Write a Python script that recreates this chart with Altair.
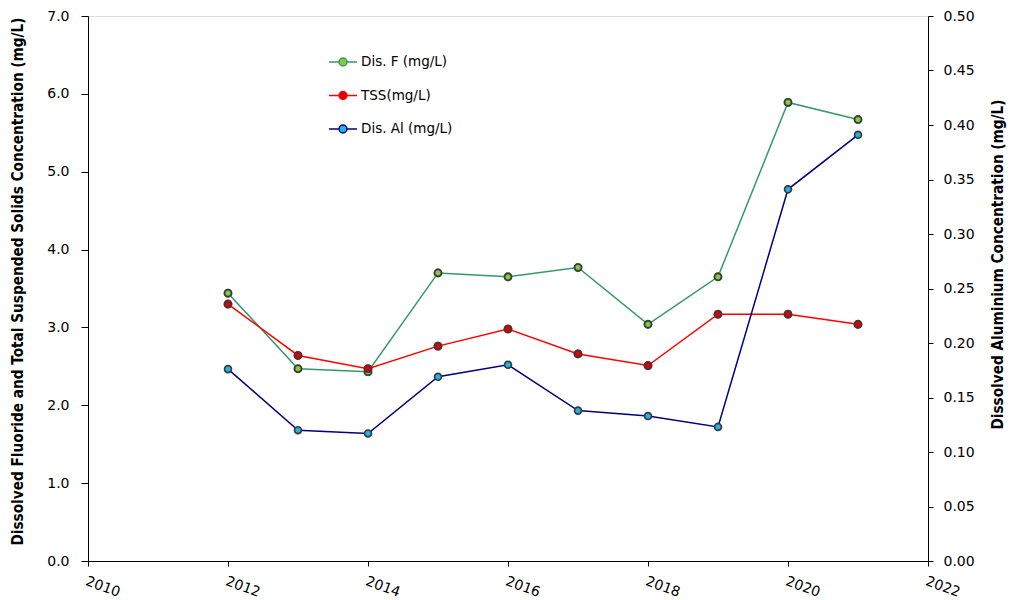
import altair as alt
import pandas as pd

# Annual monitoring results
years = [2012, 2013, 2014, 2015, 2016, 2017, 2018, 2019, 2020, 2021]
dis_f = [3.44, 2.47, 2.43, 3.70, 3.65, 3.77, 3.04, 3.65, 5.89, 5.67]   # mg/L, left axis
tss = [3.30, 2.64, 2.47, 2.76, 2.98, 2.66, 2.51, 3.17, 3.17, 3.04]     # mg/L, left axis
dis_al = [0.176, 0.120, 0.117, 0.169, 0.180, 0.138, 0.133, 0.123, 0.341, 0.391]  # mg/L, right axis

series_names = ["Dis. F (mg/L)", "TSS(mg/L)", "Dis. Al (mg/L)"]
line_colors = ["#339966", "#FF0000", "#000080"]
fill_colors = ["#8DC63F", "#E00000", "#1EB4EA"]

x_ticks = [2010, 2012, 2014, 2016, 2018, 2020, 2022]
left_ticks = [0, 1, 2, 3, 4, 5, 6, 7]
right_ticks = [0, 0.05, 0.10, 0.15, 0.20, 0.25, 0.30, 0.35, 0.40, 0.45, 0.50]

rows = []
for name, vals in zip(series_names, [dis_f, tss, dis_al]):
    for yr, v in zip(years, vals):
        rows.append({"year": yr, "series": name, "value": v})
df = pd.DataFrame(rows)

FONT = "DejaVu Sans"
TITLE_FONT = "DejaVu Sans Condensed"

x_enc = alt.X(
    "year:Q",
    scale=alt.Scale(domain=[2010, 2022], nice=False, zero=False),
    axis=alt.Axis(
        values=x_ticks, format="d", title=None, labelAngle=20, labelAlign="left",
        labelBaseline="top", labelFontSize=14, labelFont=FONT, labelPadding=8,
        tickSize=5, labelColor="black", domainColor="black", tickColor="black",
        grid=False,
    ),
)

y_left = alt.Y(
    "value:Q",
    scale=alt.Scale(domain=[0, 7], nice=False),
    axis=alt.Axis(
        values=left_ticks, format=".1f",
        title="Dissolved Fluoride and Total Suspended Solids Concentration (mg/L)",
        titleFont=TITLE_FONT, titleFontSize=15.2, titleFontWeight="bold",
        titlePadding=21, titleY=265, labelFontSize=14, labelFont=FONT, labelPadding=12,
        tickSize=7, labelColor="black", domainColor="black", tickColor="black",
        titleColor="black", grid=False,
    ),
)

y_right = alt.Y(
    "value:Q",
    scale=alt.Scale(domain=[0, 0.5], nice=False),
    axis=alt.Axis(
        orient="right", values=right_ticks, format=".2f",
        title="Dissolved Aluminium Concentration (mg/L)",
        titleFont=TITLE_FONT, titleFontSize=15.2, titleFontWeight="bold",
        titleAngle=270, titlePadding=31, titleY=248, labelFontSize=14, labelFont=FONT,
        labelPadding=10, tickSize=5, labelColor="black", domainColor="black",
        tickColor="black", titleColor="black", grid=False,
    ),
)

base = alt.Chart(df)


def series_line(name, color, y):
    return base.transform_filter(alt.datum.series == name).mark_line(
        color=color, strokeWidth=1.5
    ).encode(x=x_enc, y=y)


def series_points(name, fill, y):
    return base.transform_filter(alt.datum.series == name).mark_point(
        filled=True, fill=fill, stroke="#3a3a3a", strokeWidth=1.7, size=48, opacity=1
    ).encode(x=x_enc, y=y)


# legend symbol: short line with a marker in the middle
legend_path = (
    "M-1,0H-0.28M0.28,0H1"
    "M-0.28,0A0.28,0.28,0,1,1,0.28,0A0.28,0.28,0,1,1,-0.28,0Z"
)
legend_def = alt.Legend(
    title=None, orient="none", legendX=240, legendY=31, symbolType=legend_path,
    symbolSize=784, symbolStrokeWidth=1.5, labelFont=FONT, labelFontSize=13.5,
    labelColor="black", rowPadding=11.5, labelOffset=3, padding=0,
)

# carries the legend; sits underneath the visible markers
legend_carrier = base.transform_filter(
    alt.FieldOneOfPredicate(field="series", oneOf=series_names[:2])
).mark_point(filled=True, size=48, opacity=1).encode(
    x=x_enc,
    y=y_left,
    stroke=alt.Stroke("series:N", scale=alt.Scale(domain=series_names, range=line_colors), legend=legend_def),
    fill=alt.Fill("series:N", scale=alt.Scale(domain=series_names, range=fill_colors), legend=legend_def),
)

left = alt.layer(
    series_line(series_names[0], line_colors[0], y_left),
    series_line(series_names[1], line_colors[1], y_left),
    legend_carrier,
    series_points(series_names[0], fill_colors[0], y_left),
    series_points(series_names[1], fill_colors[1], y_left),
)

right = alt.layer(
    series_line(series_names[2], line_colors[2], y_right),
    series_points(series_names[2], fill_colors[2], y_right),
)

chart = alt.layer(left, right).resolve_scale(y="independent").properties(
    width=840,
    height=545,
    autosize=alt.AutoSizeParams(type="none"),
    padding={"left": 88, "top": 16, "right": 88, "bottom": 39},
).configure_view(stroke=None).configure(background="white")

chart.save("out.html", embed_options={"renderer": "svg", "actions": False})
